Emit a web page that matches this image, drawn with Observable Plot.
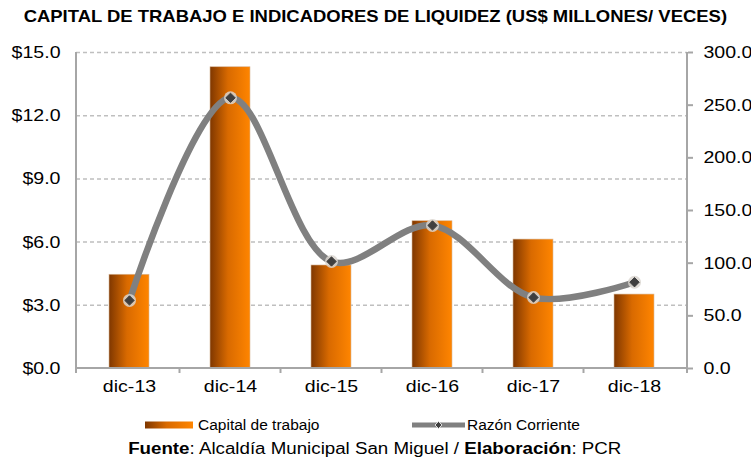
<!DOCTYPE html>
<html><head><meta charset="utf-8">
<script src="https://cdn.jsdelivr.net/npm/d3@7"></script>
<script src="https://cdn.jsdelivr.net/npm/@observablehq/plot@0.6"></script>
<style>
body{margin:0;background:#fff;font-family:"Liberation Sans",Arial,sans-serif;color:#000;}
#wrap{width:751px;height:462px;position:relative;overflow:hidden;}
#title{position:absolute;left:0;top:0;width:751px;height:34px;line-height:34px;text-align:center;font-weight:bold;font-size:17px;transform:scaleX(1.085);transform-origin:377px 17px;white-space:nowrap;}
#chart{position:absolute;left:0;top:34px;}
.leg{position:absolute;font-size:15.5px;line-height:18px;white-space:nowrap;}
#source{position:absolute;left:0;width:751px;top:439px;text-align:center;font-size:16px;line-height:20px;white-space:nowrap;transform:scaleX(1.17);transform-origin:380px 10px;}
</style></head>
<body>
<div id="wrap">
  <div id="title">CAPITAL DE TRABAJO E INDICADORES DE LIQUIDEZ (US$ MILLONES/ VECES)</div>
  <div id="chart"></div>
  <div class="leg" style="left:145px;top:416px;">
    <svg width="48" height="18" style="vertical-align:top"><defs><linearGradient id="lgGrad" x1="0" x2="1" y1="0" y2="0"><stop offset="0" stop-color="#7f3700"/><stop offset="0.45" stop-color="#d96a00"/><stop offset="1" stop-color="#ff8500"/></linearGradient></defs><rect x="0" y="5.5" width="48" height="7" fill="url(#lgGrad)"/></svg><span style="margin-left:5px">Capital de trabajo</span>
  </div>
  <div class="leg" style="left:412px;top:416px;">
    <svg width="53" height="18" style="vertical-align:top"><line x1="0" x2="53" y1="9" y2="9" stroke="#808080" stroke-width="5"/><path d="M26.5,5.5L30,9L26.5,12.5L23,9Z" fill="#404040" stroke="#ddd" stroke-width="1"/></svg><span style="margin-left:2px">Razón Corriente</span>
  </div>
  <div id="source"><b>Fuente</b>: Alcaldía Municipal San Miguel / <b>Elaboración</b>: PCR</div>
</div>
<script>
const categories = ["dic-13","dic-14","dic-15","dic-16","dic-17","dic-18"];
const capitalTrabajo = [4.45, 14.3, 4.89, 6.99, 6.12, 3.51];
const razonCorriente = [64.6, 257, 101.6, 135.8, 67.4, 81.9];
const leftTicks = [0, 3, 6, 9, 12, 15];
const rightTicks = [0, 50, 100, 150, 200, 250, 300];
const rightMax = 300, leftMax = 15;
const ratio = rightMax / leftMax;

const data = categories.map((c, i) => ({cat: c, capital: capitalTrabajo[i], razon: razonCorriente[i]}));

function axesFrame(index, scales, values, dims) {
  const x = scales.x, y = scales.y;
  const left = dims.marginLeft, right = dims.width - dims.marginRight;
  const y0 = y(0), yTop = y(leftMax);
  const g = d3.create("svg:g").attr("stroke", "#a6a6a6").attr("stroke-width", 2).attr("fill", "none");
  g.append("line").attr("x1", left).attr("x2", left).attr("y1", yTop).attr("y2", y0 + 5);
  g.append("line").attr("x1", right).attr("x2", right).attr("y1", yTop).attr("y2", y0 + 5);
  g.append("line").attr("x1", left - 1).attr("x2", right + 1).attr("y1", y0).attr("y2", y0);
  const step = x(categories[1]) - x(categories[0]);
  const bw = x.bandwidth ? x.bandwidth() : step * 0.4;
  for (let i = 1; i < categories.length; i++) {
    const bx = x(categories[i]) - (step - bw) / 2;
    g.append("line").attr("x1", bx).attr("x2", bx).attr("y1", y0).attr("y2", y0 + 5);
  }
  return g.node();
}

const plot = Plot.plot({
  width: 751,
  height: 371,
  marginLeft: 76,
  marginRight: 64,
  marginTop: 18,
  marginBottom: 37,
  style: {fontFamily: "'Liberation Sans', Arial, sans-serif", fontSize: "17px", color: "#000", background: "#fff", overflow: "visible"},
  x: {domain: categories, paddingInner: 0.6, paddingOuter: 0.3, label: null},
  y: {domain: [0, leftMax], label: null},
  marks: [
    Plot.gridY(leftTicks.filter(d => d > 0), {stroke: "#bfbfbf", strokeOpacity: 1, strokeWidth: 1.5, strokeDasharray: "4,3"}),
    Plot.barY(data, {x: "cat", y: "capital", fill: "url(#barGrad)", stroke: "#d8b89a", strokeWidth: 0.6}),
    Plot.line(data, {x: "cat", y: d => d.razon / ratio, curve: "catmull-rom", stroke: "#808080", strokeWidth: 6.5}),
    Plot.dot(data, {x: "cat", y: d => d.razon / ratio, r: 6.5, fill: "#d9d5cf", fillOpacity: 0.85, stroke: null}),
    Plot.dot(data, {x: "cat", y: d => d.razon / ratio, symbol: "diamond2", r: 4.2, fill: "#3f3f3f", stroke: "#3f3f3f", strokeWidth: 1}),
    axesFrame,
    Plot.axisY(leftTicks, {anchor: "left", tickSize: 0, tickPadding: 16, tickFormat: d => "$" + d.toFixed(1), fill: "#000"}),
    Plot.axisY(rightTicks.map(v => v / ratio), {anchor: "right", tickSize: 5, tickPadding: 11, stroke: "#a6a6a6", strokeWidth: 2, strokeOpacity: 1, tickFormat: d => (d * ratio).toFixed(1), fill: "#000"}),
    Plot.axisX({anchor: "bottom", tickSize: 0, tickPadding: 11, fill: "#000"})
  ]
});

const defs = d3.select(plot).insert("defs", ":first-child");
const grad = defs.append("linearGradient").attr("id", "barGrad").attr("x1", 0).attr("x2", 1).attr("y1", 0).attr("y2", 0);
grad.append("stop").attr("offset", 0).attr("stop-color", "#7f3700");
grad.append("stop").attr("offset", 0.45).attr("stop-color", "#d96a00");
grad.append("stop").attr("offset", 1).attr("stop-color", "#ff8500");

document.getElementById("chart").appendChild(plot);

// widen tick label glyphs to match the reference's wide rendering (each text once)
const seen = new Set();
plot.querySelectorAll("text").forEach(t => {
  if (seen.has(t) || t.hasAttribute("textLength")) return;
  seen.add(t);
  const len = t.getComputedTextLength();
  if (len > 0) {
    t.setAttribute("textLength", (len * 1.15).toFixed(1));
    t.setAttribute("lengthAdjust", "spacingAndGlyphs");
  }
});
</script>
</body></html>
